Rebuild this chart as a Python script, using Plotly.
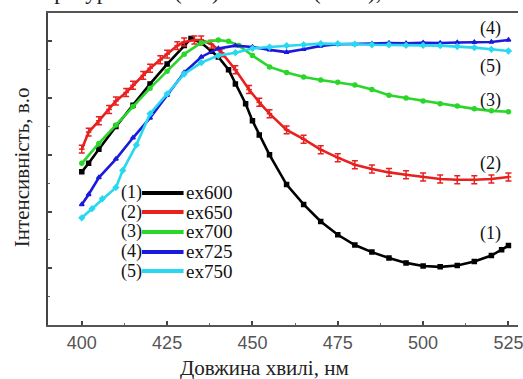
import plotly.graph_objects as go

# ---------------- data ----------------
wl_600 = [400, 402, 405, 410, 415, 420, 425, 430, 432, 435, 438, 440, 443, 445, 448, 450, 452, 455, 460, 465, 470, 475, 480, 485, 490, 495, 500, 505, 510, 515, 520, 523, 525]
ex600 = [5.4, 5.7, 6.2, 7.0, 7.75, 8.5, 9.2, 9.85, 10.1, 9.95, 9.65, 9.45, 9.0, 8.5, 7.8, 7.2, 6.7, 6.0, 4.95, 4.25, 3.65, 3.18, 2.82, 2.57, 2.36, 2.19, 2.08, 2.05, 2.1, 2.24, 2.45, 2.65, 2.8]

wl_650 = [400, 402, 405, 408, 410, 413, 415, 418, 420, 423, 425, 428, 430, 433, 435, 438, 441, 445, 449, 452, 455, 460, 465, 470, 475, 480, 485, 490, 495, 500, 505, 510, 515, 520, 525]
ex650 = [6.2, 6.8, 7.2, 7.6, 7.9, 8.2, 8.45, 8.8, 9.05, 9.35, 9.55, 9.85, 9.98, 10.05, 10.05, 9.9, 9.6, 9.0, 8.3, 7.85, 7.45, 6.88, 6.55, 6.18, 5.9, 5.65, 5.5, 5.38, 5.3, 5.22, 5.15, 5.12, 5.12, 5.15, 5.22]

wl_700 = [400, 405, 410, 415, 420, 425, 430, 435, 440, 443, 446, 450, 455, 460, 465, 470, 475, 480, 485, 490, 495, 500, 505, 510, 515, 520, 525]
ex700 = [5.7, 6.4, 7.05, 7.7, 8.35, 8.95, 9.55, 9.95, 10.05, 10.0, 9.85, 9.5, 9.1, 8.9, 8.74, 8.64, 8.56, 8.46, 8.3, 8.1, 8.0, 7.9, 7.8, 7.72, 7.62, 7.55, 7.52]

wl_725 = [400, 402, 405, 410, 415, 420, 425, 430, 435, 440, 445, 450, 455, 460, 465, 470, 475, 480, 485, 490, 495, 500, 505, 510, 515, 520, 525]
ex725 = [4.25, 4.6, 5.2, 5.85, 6.6, 7.3, 8.1, 8.9, 9.45, 9.75, 9.85, 9.8, 9.7, 9.62, 9.72, 9.84, 9.9, 9.9, 9.92, 9.94, 9.93, 9.95, 9.94, 9.96, 9.97, 9.98, 10.05]

wl_750 = [400, 403, 406, 410, 412, 416, 420, 425, 430, 435, 440, 445, 450, 455, 460, 465, 470, 475, 480, 485, 490, 495, 500, 505, 510, 515, 520, 525]
ex750 = [3.78, 4.1, 4.45, 4.85, 5.45, 6.35, 7.45, 8.15, 8.85, 9.25, 9.5, 9.6, 9.75, 9.8, 9.85, 9.88, 9.92, 9.92, 9.9, 9.88, 9.88, 9.86, 9.86, 9.85, 9.82, 9.78, 9.72, 9.66]
red_err = 0.14

series = [
    ("(1)", "ex600", wl_600, ex600, "#000000", "square"),
    ("(2)", "ex650", wl_650, ex650, "#e8201e", "line-ew"),
    ("(3)", "ex700", wl_700, ex700, "#2ad62a", "circle"),
    ("(4)", "ex725", wl_725, ex725, "#1a1adc", "triangle-up"),
    ("(5)", "ex750", wl_750, ex750, "#28d8f0", "diamond"),
]

x_ticks = [400, 425, 450, 475, 500, 525]
x_title = "Довжина хвилі, нм"
y_title = "Інтенсивність, в.о"
top_text = "температура 77 К (ТО) та 300 К (ТНО),"

# plot-area geometry (px) for paper-coordinate helpers
L, T, W, H = 48, 13, 475, 312
def px(xp):
    return (xp - L) / W
def py(yp):
    return (T + H - yp) / H

fig = go.Figure()
for num, name, xs, ys, col, sym in series:
    kw = {}
    if name == "ex650":
        kw["error_y"] = dict(type="constant", value=red_err, color=col, thickness=1.5, width=3)
    fig.add_trace(go.Scatter(x=xs, y=ys, mode="lines+markers", name=name, showlegend=False,
                             line=dict(color=col, width=2.6),
                             marker=dict(color=col, size=4, symbol=sym,
                                         line=dict(color=col, width=1.5)), **kw))

serif = "Liberation Serif"
sans = "Liberation Sans"

annotations = []
shapes = []
# manual legend: "(n)" + line sample + name
leg_rows = [193, 212, 232, 252, 271]
for (num, name, xs, ys, col, sym), ry in zip(series, leg_rows):
    annotations.append(dict(x=px(132), y=py(ry), xref="paper", yref="paper", text=num, showarrow=False,
                            font=dict(family=serif, size=18, color="#111"), xanchor="center", yanchor="middle"))
    shapes.append(dict(type="line", xref="paper", yref="paper", x0=px(143), x1=px(185),
                       y0=py(ry), y1=py(ry), line=dict(color=col, width=4)))
    annotations.append(dict(x=px(185), y=py(ry), xref="paper", yref="paper", text=name, showarrow=False,
                            font=dict(family=serif, size=19, color="#111"), xanchor="left", yanchor="middle"))
# curve labels on the right
lab_y = {"(4)": 10.47, "(5)": 9.1, "(3)": 7.93, "(2)": 5.71, "(1)": 3.24}
for k, v in lab_y.items():
    annotations.append(dict(x=519.7, y=v, xref="x", yref="y", text=k, showarrow=False,
                            font=dict(family=serif, size=18, color="#111"), xanchor="center"))
# axis titles
annotations.append(dict(x=px(22), y=py(167), xref="paper", yref="paper", text=y_title, textangle=-90,
                        showarrow=False, font=dict(family=serif, size=21, color="#222"),
                        xanchor="center", yanchor="middle"))
annotations.append(dict(x=px(267), y=py(368), xref="paper", yref="paper", text=x_title,
                        showarrow=False, font=dict(family=serif, size=21, color="#222"),
                        xanchor="center", yanchor="middle"))
# cut caption text at top (only its lower part is visible)
annotations.append(dict(x=px(-6), y=py(-9), xref="paper", yref="paper", text=top_text,
                        showarrow=False, font=dict(family=serif, size=23, color="#222"),
                        xanchor="left", yanchor="middle"))

fig.update_layout(
    width=523, height=379,
    margin=dict(l=48, r=0, t=13, b=54),
    paper_bgcolor="white", plot_bgcolor="white",
    showlegend=False,
    annotations=annotations,
    shapes=shapes,
    xaxis=dict(range=[390.1, 527.8], tickvals=x_ticks, ticktext=[str(t) for t in x_ticks],
               ticks="inside", ticklen=4, tickwidth=1.5, tickcolor="#444",
               minor=dict(ticks="inside", ticklen=2, tickwidth=1, tickcolor="#666", dtick=12.5, tick0=400),
               showline=True, linecolor="#555", linewidth=2, mirror=True,
               showgrid=False, zeroline=False, ticklabeloverflow="allow",
               tickfont=dict(family=sans, size=18, color="#555")),
    yaxis=dict(range=[0, 11], tickvals=[2, 4, 6, 8, 10], showticklabels=False,
               ticks="inside", ticklen=4, tickwidth=1.5, tickcolor="#444",
               minor=dict(ticks="inside", ticklen=2, tickwidth=1, tickcolor="#666", dtick=1, tick0=0),
               showline=True, linecolor="#444", linewidth=2,
               showgrid=False, zeroline=False),
)

fig.write_html("out.html")
